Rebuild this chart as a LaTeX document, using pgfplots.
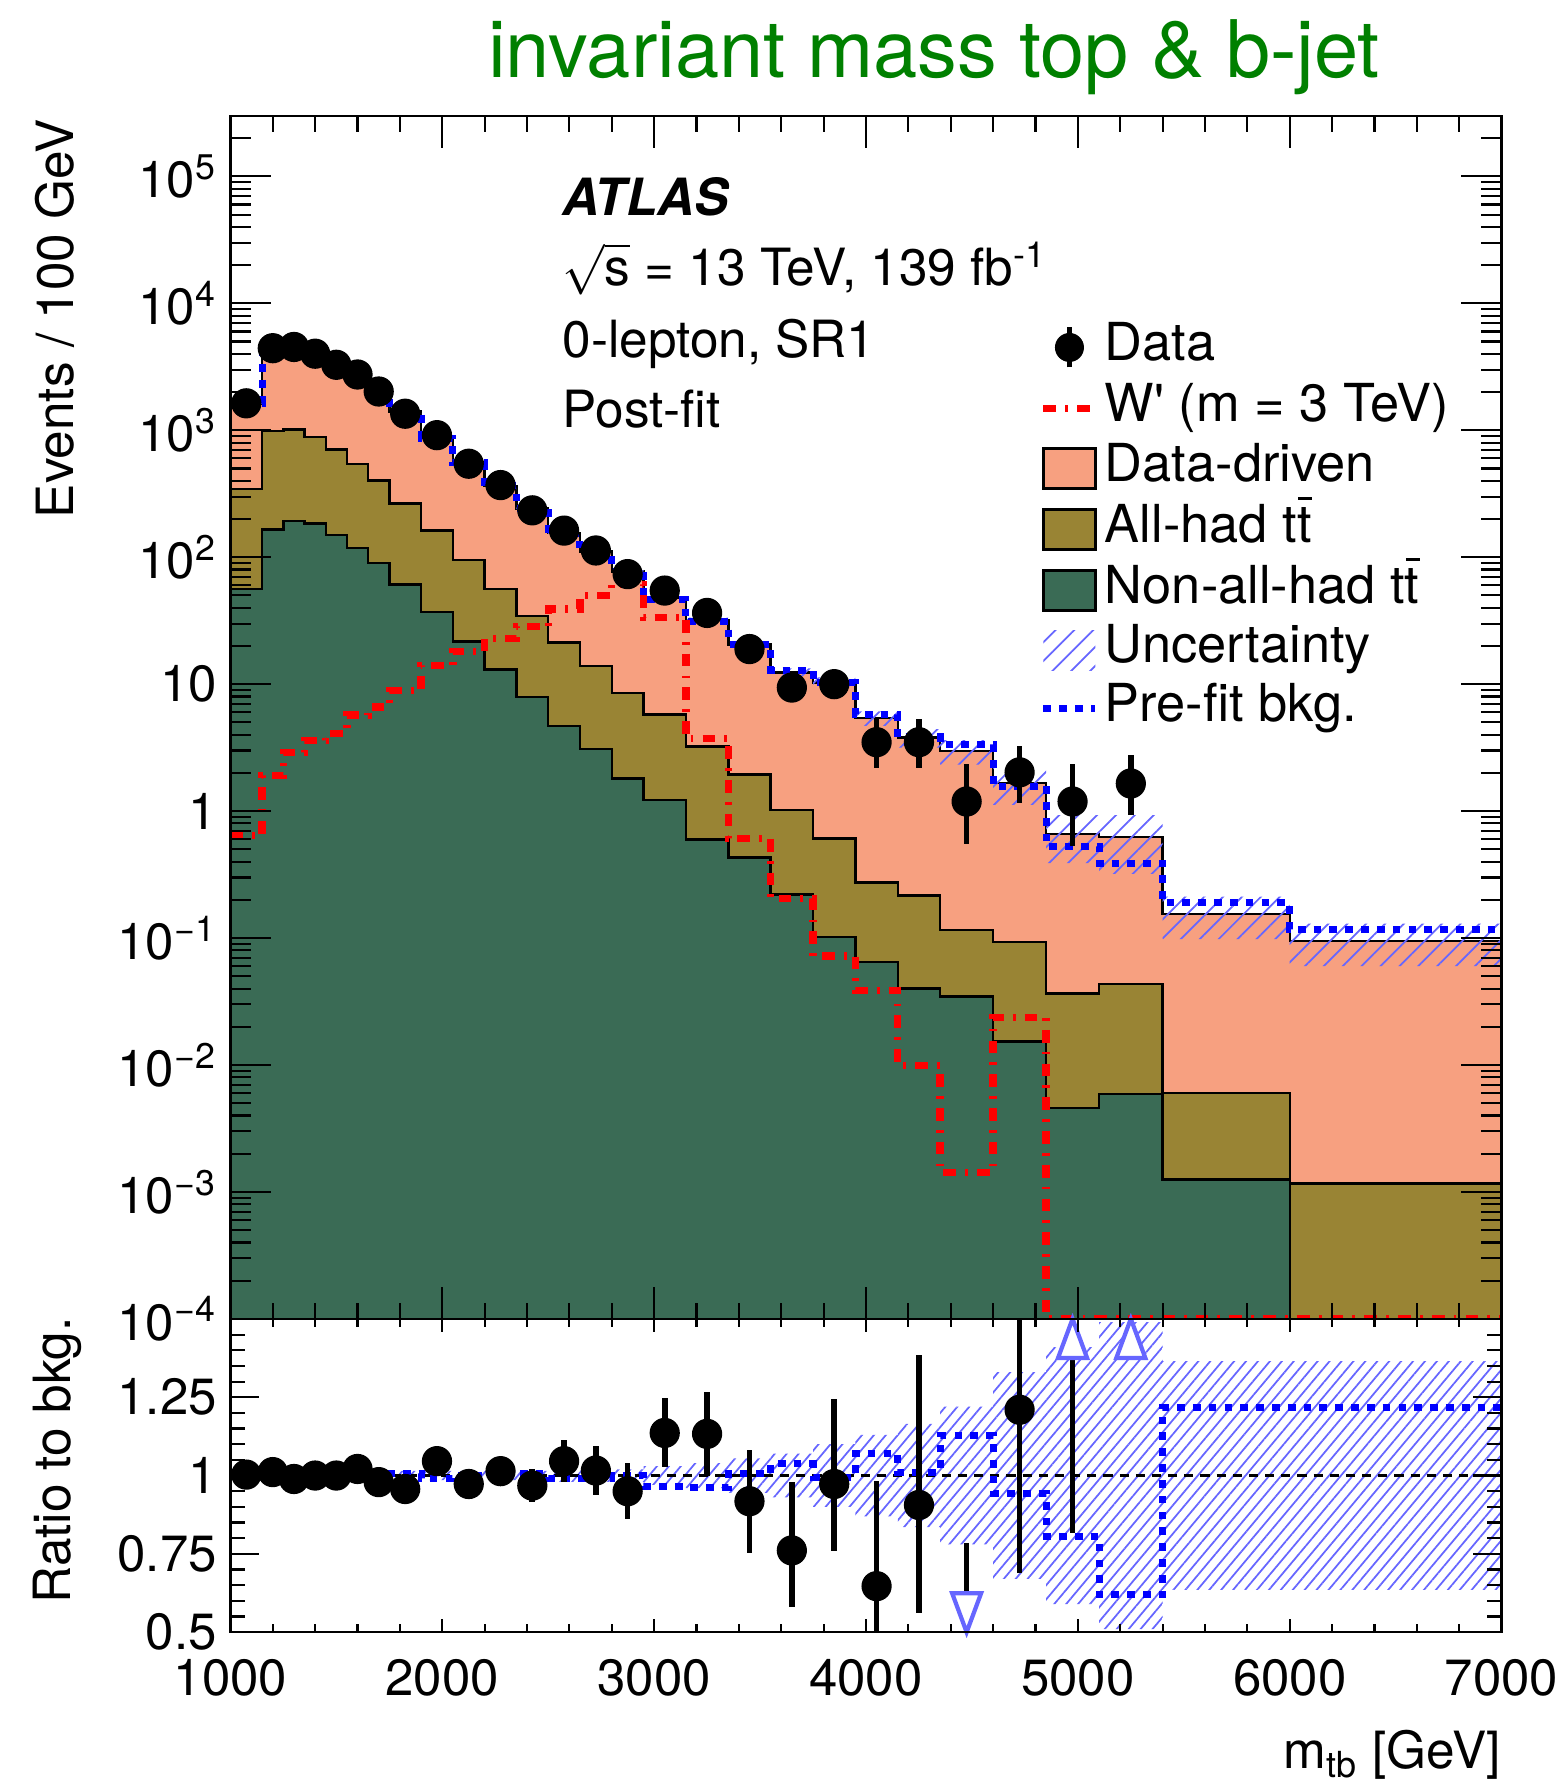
\documentclass[border=0pt]{standalone}
\usepackage{fontspec}
\setmainfont{TeX Gyre Heros}
\usepackage{pgfplots}
\pgfplotsset{compat=1.18}
\usepackage{pgfplotstable}
\usetikzlibrary{patterns.meta}

\definecolor{ddsalmon}{RGB}{247,160,128}
\definecolor{allhad}{RGB}{153,132,52}
\definecolor{nonallhad}{RGB}{58,107,85}
\definecolor{hatchblue}{RGB}{102,102,255}
\definecolor{titlegreen}{RGB}{0,128,0}

\newcommand{\txt}{\fontsize{14.6}{17}\selectfont}
\newcommand{\lgd}{\fontsize{14.9}{17}\selectfont}
\newcommand{\tck}{\fontsize{14.5}{17}\selectfont}
\newcommand{\ttbar}{t\rlap{\hspace{0.02em}\raisebox{0.80em}{\rule{0.27em}{0.06em}}}t}

\tikzset{
  wpstyle/.style={red, line width=2.1pt, dash pattern=on 3.6pt off 2.6pt on 0.8pt off 2.6pt},
  prestyle/.style={blue, line width=2pt, dash pattern=on 2.2pt off 2.3pt},
  hatchmain/.style={pattern={Lines[angle=45,distance=3.8pt,line width=0.5pt]}, pattern color=hatchblue},
  hatchratio/.style={pattern={Lines[angle=50,distance=2.6pt,line width=0.5pt]}, pattern color=hatchblue},
}

% open triangles for ratio points outside the frame (tip on the frame edge)
\pgfdeclareplotmark{tipup}{%
  \pgfpathmoveto{\pgfpoint{0cm}{0cm}}%
  \pgfpathlineto{\pgfpoint{-0.145cm}{-0.39cm}}%
  \pgfpathlineto{\pgfpoint{0.145cm}{-0.39cm}}%
  \pgfpathclose\pgfusepathqfillstroke}
\pgfdeclareplotmark{tipdown}{%
  \pgfpathmoveto{\pgfpoint{0cm}{0cm}}%
  \pgfpathlineto{\pgfpoint{-0.145cm}{0.39cm}}%
  \pgfpathlineto{\pgfpoint{0.145cm}{0.39cm}}%
  \pgfpathclose\pgfusepathqfillstroke}

% stacked histograms (cumulative tops), pre-fit background and W' signal, per lower bin edge
\pgfplotstableread{
lo    nah       ah       dd     pre     wp
1000  56        345      1625   1625    0.64
1150  166       990      4380   4380    1.9
1250  193       1015     4580   4580    2.9
1350  185       885      4010   4010    3.6
1450  150       706      3280   3280    4.1
1550  118       545      2690   2690    5.7
1650  90        401      2060   2060    6.6
1750  61        266      1410   1417    8.9
1900  37        162      875    866     14
2050  21.6      95       560    560     18
2200  13        56       365    365     23
2350  7.9       34.5     242    243     28.4
2500  4.7       21.3     155    153     39
2650  3.1       13.9     111    110     50
2800  1.8       8.5      77.5   77.5    61
2950  1.22      5.77     48     46.3    33.5
3150  0.6       3.23     32.1   30.9    3.75
3350  0.43      1.94     20.6   20.7    0.61
3550  0.22      1.02     12.4   12.9    0.205
3750  0.102     0.61     10.3   10.25   0.072
3950  0.065     0.275    5.4    5.78    0.0387
4150  0.040     0.217    3.8    3.84    0.0099
4350  0.0346    0.116    2.97   3.35    0.00143
4600  0.0153    0.093    1.67   1.57    0.0237
4850  0.0046    0.0365   0.66   0.53    0.0001
5100  0.0059    0.0435   0.625  0.39    0.0001
5400  0.00125   0.006    0.155  0.189   0.0001
6000  0.000001  0.00117  0.095  0.116   0.0001
7000  0.000001  0.00117  0.095  0.116   0.0001
}\hist

% post-fit uncertainty band: upper edge forward, lower edge backward
\pgfplotstableread{
x     y
1000  1641
1150  4424
1250  4626
1350  4050
1450  3313
1550  2717
1650  2081
1750  1431
1900  888
2050  568
2200  370
2350  246
2500  158
2650  113
2800  79.1
2950  49.4
3150  33.4
3350  21.7
3550  13.3
3750  11.3
3950  6.10
4150  4.43
4350  3.62
4600  2.22
4850  0.93
5100  0.93
5400  0.212
6000  0.130
7000  0.130
7000  0.060
6000  0.098
5400  0.32
5100  0.39
4850  1.12
4600  2.32
4350  3.17
4150  4.70
3950  9.27
3750  11.5
3550  19.5
3350  30.8
3150  46.6
2950  76.0
2800  109
2650  152
2500  238
2350  360
2200  552
2050  862
1900  1389
1750  2039
1650  2663
1550  3247
1450  3970
1350  4534
1250  4336
1150  1609
1000  1609
}\band

% data per 100 GeV
\pgfplotstableread{
x     y      ep     em
1075  1630   33     33
1200  4430   67     67
1300  4530   67     67
1400  4010   63     63
1500  3280   57     57
1600  2750   52     52
1700  2020   45     45
1825  1350   30     30
1975  915    25     25
2125  545    19     19
2275  370    16     16
2425  234    12.5   12.5
2575  162    10.4   10.4
2725  113    8.7    8.7
2875  73.6   7.0    7.0
3050  54.6   5.2    5.2
3250  36.4   4.3    4.3
3450  18.9   3.1    3.1
3650  9.4    2.7    2.2
3850  10.0   2.8    2.2
4050  3.49   1.82   1.31
4250  3.49   1.82   1.31
4475  1.19   1.17   0.64
4725  2.02   1.26   0.87
4975  1.19   1.17   0.66
5250  1.65   1.14   0.71
}\datamain

% ratio panel: pre-fit / post-fit per lower bin edge
\pgfplotstableread{
lo    rpre
1000  1.0
1150  1.0
1250  1.0
1350  1.0
1450  1.0
1550  1.0
1650  1.0
1750  1.005
1900  0.99
2050  1.0
2200  1.0
2350  1.005
2500  0.99
2650  0.99
2800  1.0
2950  0.965
3150  0.963
3350  1.005
3550  1.037
3750  0.995
3950  1.07
4150  1.011
4350  1.129
4600  0.943
4850  0.806
5100  0.62
5400  1.218
6000  1.218
7000  1.218
}\ratiohist

% ratio panel: relative uncertainty band, upper edge forward, lower edge backward
\pgfplotstableread{
x     y
1000  1.01
1150  1.01
1250  1.01
1350  1.01
1450  1.01
1550  1.01
1650  1.01
1750  1.015
1900  1.015
2050  1.015
2200  1.015
2350  1.015
2500  1.02
2650  1.02
2800  1.02
2950  1.03
3150  1.04
3350  1.055
3550  1.07
3750  1.10
3950  1.13
4150  1.165
4350  1.22
4600  1.33
4850  1.41
5100  1.49
5400  1.365
6000  1.365
7000  1.365
7000  0.635
6000  0.635
5400  0.51
5100  0.59
4850  0.67
4600  0.78
4350  0.835
4150  0.87
3950  0.90
3750  0.93
3550  0.945
3350  0.96
3150  0.97
2950  0.98
2800  0.98
2650  0.98
2500  0.985
2350  0.985
2200  0.985
2050  0.985
1900  0.985
1750  0.99
1650  0.99
1550  0.99
1450  0.99
1350  0.99
1250  0.99
1150  0.99
1000  0.99
}\ratioband

% ratio panel: data / post-fit background
\pgfplotstableread{
x     r      ep     em
1075  1.003  0.020  0.020
1200  1.011  0.015  0.015
1300  0.989  0.015  0.015
1400  1.000  0.016  0.016
1500  1.000  0.017  0.017
1600  1.021  0.019  0.019
1700  0.979  0.022  0.022
1825  0.957  0.021  0.021
1975  1.046  0.028  0.028
2125  0.973  0.034  0.034
2275  1.014  0.043  0.043
2425  0.968  0.052  0.052
2575  1.046  0.067  0.067
2725  1.016  0.078  0.078
2875  0.950  0.090  0.090
3050  1.136  0.110  0.110
3250  1.133  0.135  0.135
3450  0.918  0.165  0.165
3650  0.761  0.22   0.18
3850  0.973  0.27   0.215
4050  0.647  0.337  0.243
4250  0.906  0.48   0.345
4725  1.21   0.75   0.52
}\ratiodata

\begin{document}
\begin{tikzpicture}
\useasboundingbox (0,0) rectangle (15.64,17.80);

% ---------------- upper panel ----------------
\begin{axis}[
  at={(2.304cm,4.611cm)}, anchor=south west,
  width=12.712cm, height=12.031cm, scale only axis,
  xmin=1000, xmax=7000, ymode=log, ymin=1e-4, ymax=3e5,
  axis line style={line width=0.7pt}, tick style={black, line width=0.6pt},
  log origin y=infty,
  axis on top,
  xtick=\empty,
  ytick={1e-4,1e-3,1e-2,1e-1,1,10,100,1e3,1e4,1e5},
  yticklabels={10\textsuperscript{−4},10\textsuperscript{−3},10\textsuperscript{−2},10\textsuperscript{−1},1,10,10\textsuperscript{2},10\textsuperscript{3},10\textsuperscript{4},10\textsuperscript{5}},
  minor ytick={2e-4,3e-4,4e-4,5e-4,6e-4,7e-4,8e-4,9e-4,
    2e-3,3e-3,4e-3,5e-3,6e-3,7e-3,8e-3,9e-3,
    2e-2,3e-2,4e-2,5e-2,6e-2,7e-2,8e-2,9e-2,
    2e-1,3e-1,4e-1,5e-1,6e-1,7e-1,8e-1,9e-1,
    2,3,4,5,6,7,8,9,20,30,40,50,60,70,80,90,
    200,300,400,500,600,700,800,900,
    2e3,3e3,4e3,5e3,6e3,7e3,8e3,9e3,
    2e4,3e4,4e4,5e4,6e4,7e4,8e4,9e4,2e5,3e5},
  major tick length=0.41cm, minor tick length=0.21cm,
  yticklabel style={anchor=east, inner sep=0pt, xshift=-0.13cm, font=\tck},
  legend cell align=left,
  legend style={at={(axis description cs:0.6367,0.8264)}, anchor=north west,
    draw=none, fill=none, inner sep=0pt, outer sep=0pt,
    row sep=0.185cm, column sep=0.06cm, font=\lgd,
    nodes={inner sep=0pt, text height=0.72em, text depth=0pt}},
]
% stacked backgrounds
\addplot[const plot, fill=ddsalmon, draw=black, line width=0.7pt, forget plot]
  table[x=lo, y=dd]{\hist} \closedcycle;
\addplot[const plot, fill=allhad, draw=black, line width=0.7pt, forget plot]
  table[x=lo, y=ah]{\hist} \closedcycle;
\addplot[const plot, fill=nonallhad, draw=black, line width=0.7pt, forget plot]
  table[x=lo, y=nah]{\hist} \closedcycle;
% uncertainty band
\addplot[const plot, draw=none, hatchmain, forget plot] table[x=x, y=y]{\band} -- cycle;
% pre-fit background and signal
\addplot[const plot, prestyle, forget plot] table[x=lo, y=pre]{\hist};
\addplot[const plot, wpstyle, forget plot] table[x=lo, y=wp]{\hist};
% data
\addplot[only marks, mark=*, mark size=4.1pt, black, forget plot,
  error bars/.cd, y dir=both, y explicit, error mark=none,
  error bar style={line width=1.6pt, black}]
  table[x=x, y=y, y error plus=ep, y error minus=em]{\datamain};

% legend swatches, drawn in canvas units
\addlegendimage{draw=none, legend image code/.code={
  \path[draw=none, fill=none] (canvas cs:x=0cm,y=-0.2cm) rectangle (canvas cs:x=0.52cm,y=0.2cm);
  \draw[black, line width=1.6pt] (canvas cs:x=0.26cm,y=-0.2cm) -- (canvas cs:x=0.26cm,y=0.2cm);
  \fill[black] (canvas cs:x=0.26cm,y=0cm) circle[radius=0.145cm];}}
\addlegendentry{Data}
\addlegendimage{draw=none, legend image code/.code={
  \path[draw=none, fill=none] (canvas cs:x=0cm,y=-0.2cm) rectangle (canvas cs:x=0.52cm,y=0.2cm);
  \draw[wpstyle] (canvas cs:x=0cm,y=0cm) -- (canvas cs:x=0.50cm,y=0cm);}}
\addlegendentry{W\textquotesingle{} (m = 3 TeV)}
\addlegendimage{draw=none, legend image code/.code={
  \draw[fill=ddsalmon, draw=black, line width=0.7pt] (canvas cs:x=0cm,y=-0.2cm) rectangle (canvas cs:x=0.52cm,y=0.2cm);}}
\addlegendentry{Data-driven}
\addlegendimage{draw=none, legend image code/.code={
  \draw[fill=allhad, draw=black, line width=0.7pt] (canvas cs:x=0cm,y=-0.2cm) rectangle (canvas cs:x=0.52cm,y=0.2cm);}}
\addlegendentry{All-had \ttbar}
\addlegendimage{draw=none, legend image code/.code={
  \draw[fill=nonallhad, draw=black, line width=0.7pt] (canvas cs:x=0cm,y=-0.2cm) rectangle (canvas cs:x=0.52cm,y=0.2cm);}}
\addlegendentry{Non-all-had \ttbar}
\addlegendimage{draw=none, legend image code/.code={
  \fill[hatchmain] (canvas cs:x=0cm,y=-0.2cm) rectangle (canvas cs:x=0.52cm,y=0.2cm);}}
\addlegendentry{Uncertainty}
\addlegendimage{draw=none, legend image code/.code={
  \path[draw=none, fill=none] (canvas cs:x=0cm,y=-0.2cm) rectangle (canvas cs:x=0.52cm,y=0.2cm);
  \draw[prestyle] (canvas cs:x=0cm,y=0cm) -- (canvas cs:x=0.52cm,y=0cm);}}
\addlegendentry{Pre-fit bkg.}
\end{axis}

% x ticks of the upper panel
\begin{axis}[
  at={(2.304cm,4.611cm)}, anchor=south west,
  width=12.712cm, height=12.031cm, scale only axis,
  xmin=1000, xmax=7000, ymin=0, ymax=1,
  axis line style={line width=0.7pt}, tick style={black, line width=0.6pt},
  ytick=\empty,
  xtick={1000,2000,3000,4000,5000,6000,7000}, xticklabels={},
  minor x tick num=4,
  major tick length=0.32cm, minor tick length=0.16cm,
]
\end{axis}

% ---------------- ratio panel ----------------
\begin{axis}[
  at={(2.304cm,1.478cm)}, anchor=south west,
  width=12.712cm, height=3.133cm, scale only axis,
  xmin=1000, xmax=7000, ymin=0.5, ymax=1.5,
  axis line style={line width=0.7pt}, tick style={black, line width=0.6pt},
  axis on top,
  xtick=\empty,
  ytick={0.5,0.75,1,1.25,1.5},
  yticklabels={0.5,0.75,1,1.25,},
  minor y tick num=4,
  major tick length=0.29cm, minor tick length=0.15cm,
  yticklabel style={anchor=east, inner sep=0pt, xshift=-0.13cm, font=\tck},
]
\addplot[const plot, draw=none, hatchratio] table[x=x, y=y]{\ratioband} -- cycle;
\addplot[black, line width=1pt, dash pattern=on 2.6pt off 2pt] coordinates {(1000,1) (7000,1)};
\addplot[const plot, prestyle] table[x=lo, y=rpre]{\ratiohist};
\addplot[only marks, mark=*, mark size=4.1pt, black,
  error bars/.cd, y dir=both, y explicit, error mark=none,
  error bar style={line width=1.6pt, black}]
  table[x=x, y=r, y error plus=ep, y error minus=em]{\ratiodata};
% points beyond the frame
\addplot[black, line width=1.6pt] coordinates {(4475,0.785) (4475,0.625)};
\addplot[black, line width=1.6pt] coordinates {(4975,0.817) (4975,1.375)};
\addplot[only marks, mark=tipdown, mark options={draw=hatchblue, fill=white, line width=1.2pt, solid}]
  coordinates {(4475,0.5)};
\addplot[only marks, mark=tipup, mark options={draw=hatchblue, fill=white, line width=1.2pt, solid}]
  coordinates {(4975,1.5) (5250,1.5)};
\end{axis}

\begin{axis}[
  at={(2.304cm,1.478cm)}, anchor=south west,
  width=12.712cm, height=3.133cm, scale only axis,
  xmin=1000, xmax=7000, ymin=0.5, ymax=1.5,
  axis line style={line width=0.7pt}, tick style={black, line width=0.6pt},
  ytick=\empty,
  xtick={1000,2000,3000,4000,5000,6000,7000},
  xticklabels={1000,2000,3000,4000,5000,6000,7000},
  minor x tick num=4,
  major tick length=0.13cm, minor tick length=0.08cm,
  xticklabel style={anchor=base, inner sep=0pt, yshift=-0.63cm, font=\tck},
]
\end{axis}

% ---------------- text ----------------
\node[anchor=base, text=titlegreen, font=\fontsize{22.6}{26}\selectfont, inner sep=0pt]
  at (9.34,17.02) {invariant mass top \& b-jet};
\node[anchor=base west, inner sep=0pt, font=\txt\bfseries\itshape] at (5.618,15.644) {ATLAS};
\node[anchor=base west, inner sep=0pt, font=\txt] at (5.618,14.945) {$\sqrt{\mbox{s}}$ = 13 TeV, 139 fb\textsuperscript{-1}};
\node[anchor=base west, inner sep=0pt, font=\txt] at (5.618,14.229) {0-lepton, SR1};
\node[anchor=base west, inner sep=0pt, font=\txt] at (5.618,13.521) {Post-fit};
\node[rotate=90, anchor=base east, inner sep=0pt, font=\txt] at (0.738,16.61) {Events / 100 GeV};
\node[rotate=90, anchor=base east, inner sep=0pt, font=\txt] at (0.705,4.634) {Ratio to bkg.};
\node[anchor=base east, inner sep=0pt, font=\txt] at (15.016,0.117) {m\textsubscript{tb} [GeV]};
\end{tikzpicture}
\end{document}
